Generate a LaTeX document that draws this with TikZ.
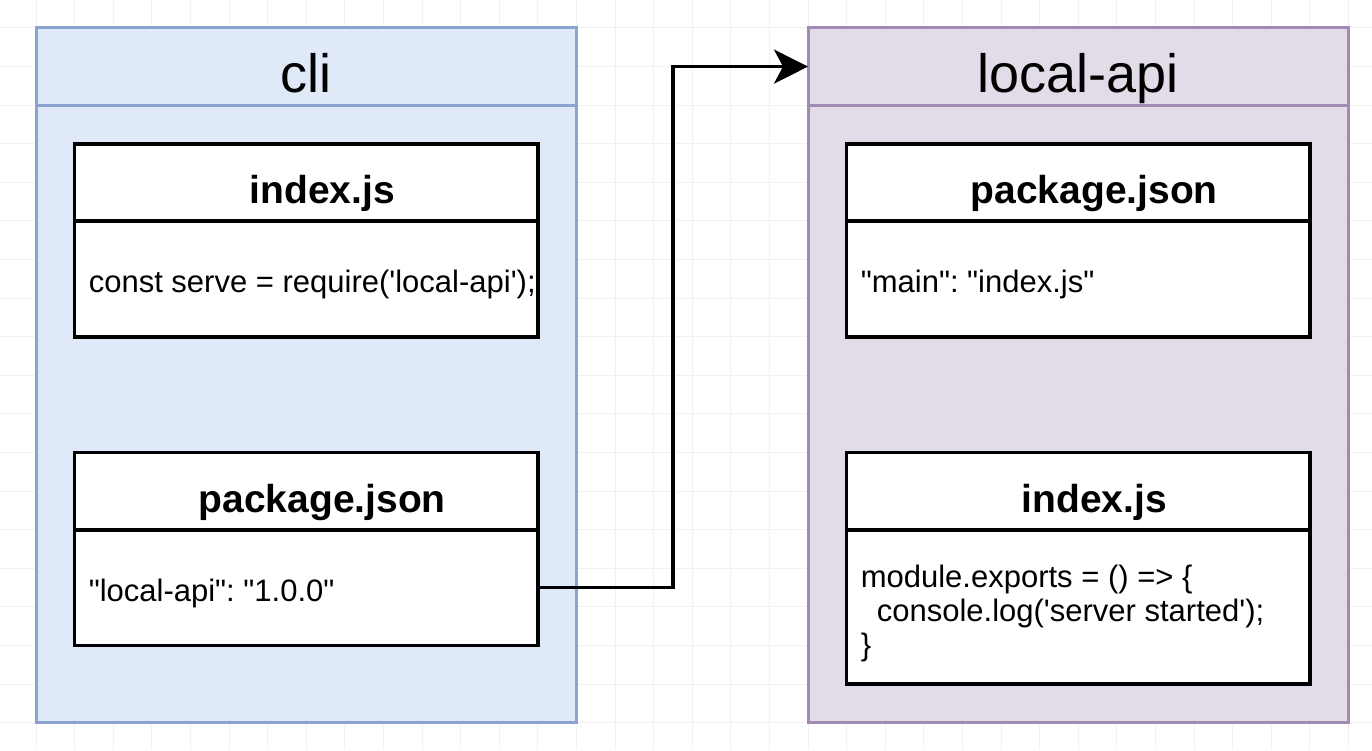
\documentclass[tikz,border=0pt]{standalone}
\usepackage{fontspec}
\setmainfont{Liberation Sans}[Ligatures=TeXOff]
\usetikzlibrary{positioning,arrows.meta}
\definecolor{cliFill}{HTML}{E0E9F8}
\definecolor{cliLine}{HTML}{8BA3CD}
\definecolor{apiFill}{HTML}{E2DBE8}
\definecolor{apiLine}{HTML}{A08CB2}
\definecolor{gridLine}{HTML}{F1F1F1}
\newcommand{\gu}{38.6pt}
\frenchspacing

\begin{document}
\begin{tikzpicture}[x=\gu, y=-\gu,
  lane/.style={draw, line width=3pt, outer sep=0pt, inner sep=0pt, minimum width=14*\gu},
  head/.style={lane, minimum height=2*\gu, font=\fontsize{54}{62}\selectfont, text depth=0pt, text height=51pt},
  filehead/.style={draw=black, fill=white, line width=3.5pt, outer sep=0pt, minimum width=12*\gu, minimum height=2*\gu, font=\bfseries\fontsize{39}{45}\selectfont, text depth=0pt, text height=43pt},
  filebody/.style={draw=black, fill=white, line width=3.5pt, outer sep=0pt, minimum width=12*\gu},
  code/.style={anchor=west, align=left, inner sep=0pt, font=\fontsize{31}{34}\selectfont}]
  % page and grid
  \fill[white] (-0.933,-0.725) rectangle (34.611,18.705);
  \useasboundingbox (-0.933,-0.725) rectangle (34.611,18.705);
  \foreach \i in {0,...,34} \draw[gridLine, line width=1pt] (\i,-0.725) -- (\i,18.705);
  \foreach \j in {0,...,18} \draw[gridLine, line width=1pt] (-0.933,\j) -- (34.611,\j);

  % cli package
  \node[head, fill=cliFill, draw=cliLine] (cli) at (7,1) {cli};
  \node[lane, fill=cliFill, draw=cliLine, minimum height=16*\gu, below=0pt of cli] (cli lane) {};
  \node[filehead] (cli index) at (7,4) {\hspace*{32pt}index.js};
  \node[filebody, minimum height=3*\gu, below=0pt of cli index] (cli index body) {};
  \node[code] (cli index code) at ([xshift=14pt, yshift=-6pt]cli index body.west) {const serve = require('local-api');};
  \node[filehead] (cli pkg) at (7,12) {\hspace*{32pt}package.json};
  \node[filebody, minimum height=3*\gu, below=0pt of cli pkg] (cli pkg body) {};
  \node[code] (cli pkg code) at ([xshift=14pt, yshift=-6pt]cli pkg body.west) {"local-api": "1.0.0"};

  % local-api package
  \node[head, fill=apiFill, draw=apiLine] (api) at (27,1) {local-api};
  \node[lane, fill=apiFill, draw=apiLine, minimum height=16*\gu, below=0pt of api] (api lane) {};
  \node[filehead] (api pkg) at (27,4) {\hspace*{32pt}package.json};
  \node[filebody, minimum height=3*\gu, below=0pt of api pkg] (api pkg body) {};
  \node[code] (api pkg code) at ([xshift=14pt, yshift=-6pt]api pkg body.west) {"main": "index.js"};
  \node[filehead] (api index) at (27,12) {\hspace*{32pt}index.js};
  \node[filebody, minimum height=4*\gu, below=0pt of api index] (api index body) {};
  \node[code] (api index code) at ([xshift=14pt, yshift=-6pt]api index body.west) {module.exports = () => \{\\\hspace*{16pt}console.log('server started');\\\}};

  % dependency arrow
  \coordinate (turn) at (16.5,1);
  \draw[line width=3.5pt, -{Stealth[length=34pt, width=34pt, inset=9pt]}] (cli pkg body.east) -| (turn) -- (api.west);
\end{tikzpicture}
\end{document}
